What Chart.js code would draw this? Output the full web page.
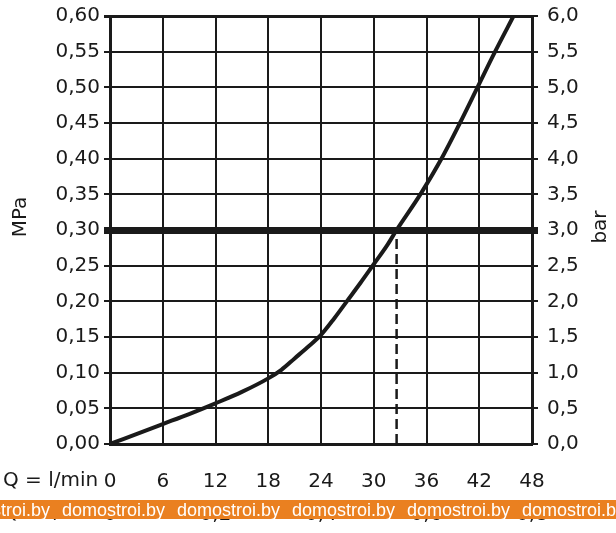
<!DOCTYPE html>
<html>
<head>
<meta charset="utf-8">
<script src="https://cdn.jsdelivr.net/npm/chart.js@4/dist/chart.umd.min.js"></script>
<style>
html,body{margin:0;padding:0;background:#fff;}
#wrap{width:616px;height:533px;position:relative;}
</style>
</head>
<body>
<div id="wrap"><canvas id="c" width="616" height="533"></canvas></div>
<script>
// Flow (l/min) vs pressure (MPa) curve
const flowLmin = [0, 3, 6, 9, 12, 15, 18, 19.5, 21, 22.5, 24, 25.5, 27, 28.5, 30, 31.5, 32.6, 35.3, 37.7, 39.8, 41.8, 43.8, 45.9];
const pressureMPa = [0, 0.014, 0.028, 0.042, 0.057, 0.073, 0.092, 0.104, 0.12, 0.136, 0.153, 0.176, 0.201, 0.226, 0.252, 0.278, 0.30, 0.35, 0.40, 0.45, 0.50, 0.55, 0.60];
// Reference (operating) pressure and its flow
const refPressure = 0.30;
const refFlow = 32.6;
// Axis labels
const xTitleMin = "Q = l/min";
const xTitleSec = "Q = l/sec";
const yTitleLeft = "MPa";
const yTitleRight = "bar";
const watermark = "domostroi.by";

const FONT = "'DejaVu Sans', sans-serif";
const INK = "#1a1a1a";

const curve = flowLmin.map((q, i) => ({x: q, y: pressureMPa[i]}));
const dropLine = [{x: refFlow, y: 0}, {x: refFlow, y: refPressure}];

const near = (a, b) => Math.abs(a - b) < 1e-6;

const overlay = {
  id: 'overlay',
  afterDraw(chart) {
    const ctx = chart.ctx;
    const xs = chart.scales.x, x2 = chart.scales.x2;
    ctx.save();
    ctx.fillStyle = INK;
    ctx.font = "20px " + FONT;
    ctx.textBaseline = 'middle';
    ctx.textAlign = 'left';
    ctx.fillText(xTitleMin, 3, xs.top + 37);
    ctx.fillText(xTitleSec, 3, x2.top + 19);
    // rotated axis titles
    ctx.save();
    ctx.translate(21, 217);
    ctx.rotate(-Math.PI / 2);
    ctx.textAlign = 'center';
    ctx.fillText(yTitleLeft, 0, 0);
    ctx.restore();
    ctx.save();
    ctx.translate(601, 227);
    ctx.rotate(-Math.PI / 2);
    ctx.textAlign = 'center';
    ctx.fillText(yTitleRight, 0, 0);
    ctx.restore();
    // watermark banner
    ctx.fillStyle = 'rgb(234,128,32)';
    ctx.fillRect(0, 500, chart.width, 19);
    ctx.fillStyle = '#ffffff';
    ctx.font = "18px 'Liberation Sans', Arial, sans-serif";
    ctx.textBaseline = 'alphabetic';
    for (let x = -53; x < chart.width; x += 115) ctx.fillText(watermark, x, 516);
    ctx.restore();
  }
};

new Chart(document.getElementById('c'), {
  type: 'scatter',
  data: {
    datasets: [
      {data: curve, showLine: true, borderColor: INK, borderWidth: 4, pointRadius: 0,
       cubicInterpolationMode: 'monotone', fill: false, order: 1},
      {data: dropLine, showLine: true, borderColor: INK, borderWidth: 2.5, borderDash: [10, 5],
       pointRadius: 0, fill: false, order: 2}
    ]
  },
  options: {
    responsive: false,
    animation: false,
    devicePixelRatio: 1,
    layout: {padding: {top: 16, left: 0, right: 0, bottom: 0}},
    plugins: {legend: {display: false}, tooltip: {enabled: false}},
    scales: {
      x: {
        type: 'linear', position: 'bottom', min: 0, max: 48,
        ticks: {stepSize: 6, color: INK, font: {family: FONT, size: 20}, padding: 26, maxRotation: 0},
        grid: {color: INK, lineWidth: 2, drawTicks: false},
        border: {display: true, color: INK, width: 3},
        afterFit(s) { s.height = 50; s.paddingLeft = 0; s.paddingRight = 0; }
      },
      x2: {
        type: 'linear', position: 'bottom', min: 0, max: 0.8,
        ticks: {stepSize: 0.2, color: INK, font: {family: FONT, size: 20}, padding: 1, maxRotation: 0,
          callback: v => v === 0 ? '0' : v.toFixed(1).replace('.', ',')},
        grid: {display: false},
        border: {display: false},
        afterFit(s) { s.height = 39; s.paddingLeft = 0; s.paddingRight = 0; }
      },
      y: {
        type: 'linear', position: 'left', min: 0, max: 0.6,
        ticks: {stepSize: 0.05, color: INK, font: {family: FONT, size: 20}, padding: 4,
          callback: v => v.toFixed(2).replace('.', ',')},
        grid: {color: INK, tickLength: 6,
          lineWidth: c => (c.tick && near(c.tick.value, refPressure)) ? 7 : (c.tick && near(c.tick.value, 0.6) ? 3 : 2)},
        border: {display: true, color: INK, width: 3},
        afterFit(s) { s.width = 110; s.paddingTop = 0; s.paddingBottom = 0; }
      },
      y2: {
        type: 'linear', position: 'right', min: 0, max: 6,
        ticks: {stepSize: 0.5, color: INK, font: {family: FONT, size: 20}, padding: 9,
          callback: v => v.toFixed(1).replace('.', ',')},
        grid: {color: INK, tickLength: 6, drawOnChartArea: false,
          lineWidth: c => (c.tick && near(c.tick.value, refPressure * 10)) ? 7 : 2},
        border: {display: true, color: INK, width: 3},
        afterFit(s) { s.width = 84; s.paddingTop = 0; s.paddingBottom = 0; }
      }
    }
  },
  plugins: [overlay]
});
</script>
</body>
</html>
